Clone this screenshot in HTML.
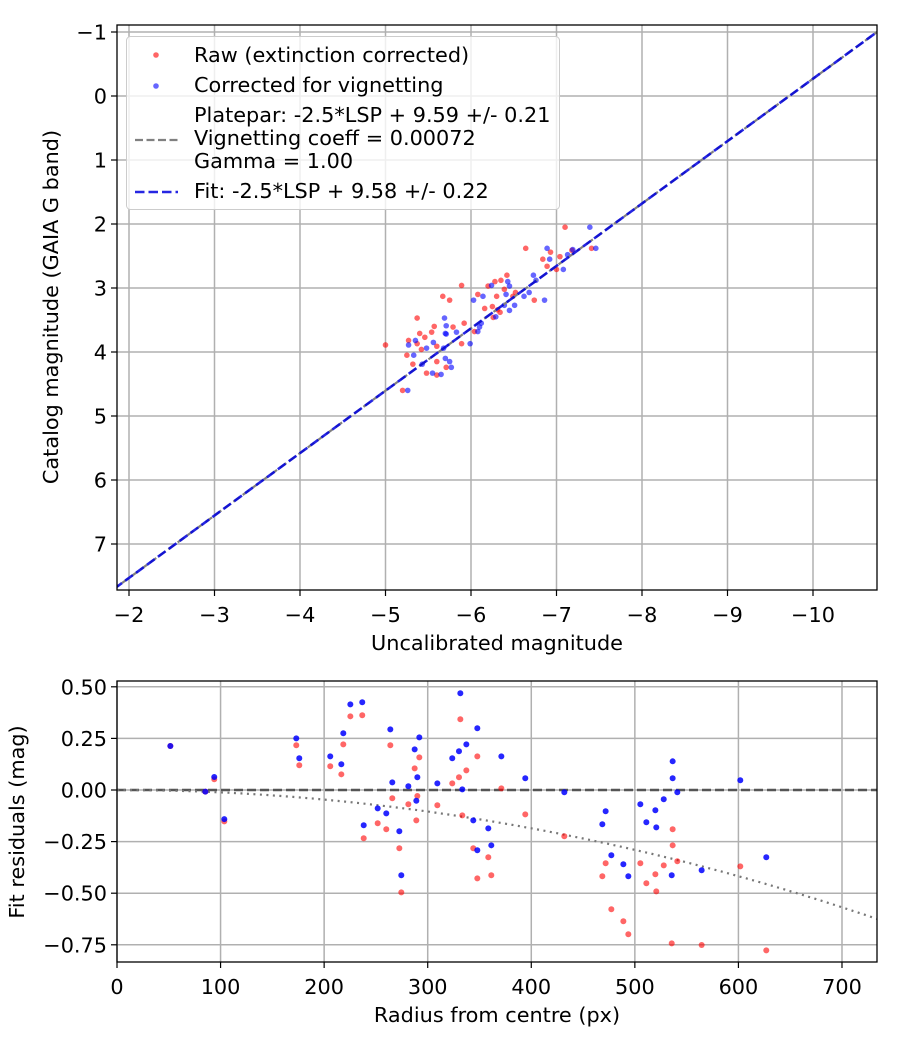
<!DOCTYPE html>
<html><head><meta charset="utf-8"><style>
body{margin:0;background:#fff;}
svg{display:block;font-family:"DejaVu Sans","Liberation Sans",sans-serif;}
</style></head><body>
<svg id="s" width="900" height="1050" xmlns="http://www.w3.org/2000/svg"></svg>
<script>
// ---- top chart data ----
const rawMag=[-7.10,-6.64,-6.93,-7.41,-6.84,-7.04,-6.89,-7.00,-7.18,-6.42,-6.35,-6.28,-6.20,-5.89,-5.67,-5.75,-6.08,-6.30,-6.39,-6.49,-6.52,-6.74,-6.16,-6.26,-6.34,-6.31,-5.37,-5.57,-5.54,-5.40,-5.27,-5.46,-5.37,-5.42,-5.00,-5.60,-5.25,-5.32,-5.48,-5.60,-5.71,-5.60,-5.20,-5.92,-5.79,-6.04,-5.89,-6.25];
const rawCat=[2.05,2.38,2.44,2.38,2.55,2.51,2.66,2.71,2.41,2.80,2.88,2.90,2.97,2.96,3.13,3.19,3.10,3.13,3.02,3.13,3.07,3.19,3.32,3.46,3.38,3.34,3.47,3.60,3.69,3.71,3.82,3.77,3.87,3.96,3.89,3.91,4.05,4.19,4.33,4.15,4.24,4.36,4.60,3.55,3.61,3.68,3.87,3.29];
const corMag=[-7.39,-6.89,-7.46,-6.92,-7.13,-7.08,-7.19,-6.73,-6.76,-6.24,-6.43,-6.45,-6.14,-6.03,-6.41,-6.62,-6.68,-6.86,-6.39,-6.51,-6.45,-6.29,-5.69,-5.71,-5.83,-5.70,-5.35,-5.27,-5.56,-5.48,-5.33,-5.43,-5.70,-5.75,-5.77,-5.55,-5.65,-5.26,-6.10,-6.08,-6.12,-5.99,-5.71,-5.68];
const corCat=[2.05,2.38,2.38,2.55,2.48,2.71,2.40,2.80,2.88,2.96,2.90,2.97,3.13,3.19,3.10,3.13,3.07,3.19,3.27,3.27,3.35,3.45,3.47,3.59,3.69,3.71,3.82,3.89,3.85,3.94,4.05,4.19,4.10,4.15,4.24,4.33,4.35,4.60,3.61,3.68,3.55,3.87,3.72,3.94];
const fitSlope=0.975;
const fitOffset=9.48;
const topXTicks=[-2,-3,-4,-5,-6,-7,-8,-9,-10];
const topYTicks=[-1,0,1,2,3,4,5,6,7];
// ---- bottom chart data ----
const radius=[51.5,85.3,93.9,103.6,173.1,176.0,205.9,216.6,218.5,225.3,236.8,238.2,251.7,260.0,263.9,265.8,272.6,274.5,281.3,287.4,290.0,289.0,291.9,309.3,323.7,330.2,331.5,337.3,333.4,347.9,344.0,347.9,358.5,361.4,371.1,394.2,431.9,471.8,468.6,477.3,488.9,493.7,505.3,511.1,519.8,520.7,527.9,536.5,536.5,541.0,535.6,564.5,601.8,626.9];
const resCor=[0.213,-0.008,0.063,-0.141,0.250,0.154,0.163,0.125,0.275,0.415,0.425,-0.171,-0.089,-0.113,0.294,0.037,-0.200,-0.413,0.018,0.197,0.062,-0.052,0.255,0.032,0.154,0.188,0.469,0.221,0.003,0.299,-0.147,-0.292,-0.186,-0.268,0.163,0.057,-0.011,-0.103,-0.166,-0.316,-0.360,-0.418,-0.069,-0.156,-0.098,-0.181,-0.045,0.139,0.057,-0.011,-0.413,-0.389,0.047,-0.326];
const resRaw=[0.213,-0.008,0.052,-0.152,0.217,0.120,0.115,0.076,0.221,0.357,0.362,-0.234,-0.161,-0.190,0.217,-0.040,-0.282,-0.496,-0.069,0.105,-0.029,-0.147,0.158,-0.074,0.032,0.062,0.343,0.095,-0.123,0.163,-0.282,-0.428,-0.326,-0.413,0.008,-0.118,-0.224,-0.355,-0.418,-0.578,-0.636,-0.699,-0.355,-0.452,-0.408,-0.491,-0.365,-0.190,-0.268,-0.345,-0.743,-0.751,-0.370,-0.777];
const vigK=1.16e-6;
const botXTicks=[0,100,200,300,400,500,600,700];
const botYTicks=[0.50,0.25,0.00,-0.25,-0.50,-0.75];

const S=document.getElementById('s');
const NS='http://www.w3.org/2000/svg';
function mk(tag,attrs,parent,txt){const e=document.createElementNS(NS,tag);for(const k in attrs)e.setAttribute(k,attrs[k]);if(txt!==undefined)e.textContent=txt;(parent||S).appendChild(e);return e;}
function fmt(v,d){const s=Math.abs(v).toFixed(d);return (v<0?'\u2212':'')+s;}
const FS=20.8;

// ===== TOP =====
const T={l:117,r:877,t:25,b:590};
const tx=v=>129+(-2-v)*85.5;
const ty=v=>32+(v+1)*64;
const gTop=mk('g',{});


mk('defs',{},S).innerHTML='<clipPath id="ct"><rect x="117" y="25" width="760" height="565"/></clipPath><clipPath id="cb"><rect x="117" y="681" width="760" height="281"/></clipPath>';
topXTicks.forEach(v=>{const x=tx(v);
 const l=mk('line',{x1:x,x2:x,y1:T.t,y2:T.b,stroke:'#b0b0b0','stroke-width':1.5},gTop);
 
 mk('line',{x1:x,x2:x,y1:T.b,y2:T.b+6,stroke:'#000','stroke-width':1.2},gTop);
 const t=mk('text',{x:x,y:622,'font-size':FS,'text-anchor':'middle'},gTop,fmt(v,0));
 });
topYTicks.forEach(v=>{const y=ty(v);
 const l=mk('line',{x1:T.l,x2:T.r,y1:y,y2:y,stroke:'#b0b0b0','stroke-width':1.5},gTop);
 
 mk('line',{x1:T.l-6,x2:T.l,y1:y,y2:y,stroke:'#000','stroke-width':1.2},gTop);
 const t=mk('text',{x:T.l-10,y:y+7.5,'font-size':FS,'text-anchor':'end'},gTop,fmt(v,0));
 });
const gPts=mk('g',{'clip-path':'url(#ct)'},gTop);
rawMag.forEach((m,i)=>{const c=mk('circle',{cx:tx(m),cy:ty(rawCat[i]),r:2.8,fill:'#ff0000','fill-opacity':0.6},gPts);
 });
corMag.forEach((m,i)=>{const c=mk('circle',{cx:tx(m),cy:ty(corCat[i]),r:2.8,fill:'#0000ff','fill-opacity':0.6},gPts);
 });
const m0=-1.7,m1=-10.9;
const fy=m=>fitSlope*m+fitOffset;
let pl=mk('line',{x1:tx(m0),y1:ty(fy(m0)),x2:tx(m1),y2:ty(fy(m1)),stroke:'#808080','stroke-width':2.2,'stroke-dasharray':'8,3.5'},gPts);

pl=mk('line',{x1:tx(m0),y1:ty(fy(m0)),x2:tx(m1),y2:ty(fy(m1)),stroke:'#0000dd','stroke-opacity':0.85,'stroke-width':2.6,'stroke-dasharray':'9.5,4'},gPts);

mk('rect',{x:T.l,y:T.t,width:T.r-T.l,height:T.b-T.t,fill:'none',stroke:'#000','stroke-width':1.3},gTop);
let t=mk('text',{x:497,y:650,'font-size':FS,'text-anchor':'middle'},gTop,'Uncalibrated magnitude');

t=mk('text',{x:58,y:307,'font-size':FS,'text-anchor':'middle',transform:'rotate(-90 58 307)'},gTop,'Catalog magnitude (GAIA G band)');

// legend
const lg=mk('g',{},gTop);

mk('rect',{x:126.5,y:36.5,width:433,height:173,rx:4,fill:'#fff','fill-opacity':0.8,stroke:'#cccccc','stroke-width':1},lg);
mk('circle',{cx:156,cy:55,r:2.8,fill:'#ff0000','fill-opacity':0.6},lg);
mk('text',{x:194,y:62,'font-size':FS},lg,'Raw (extinction corrected)');
mk('circle',{cx:156,cy:86,r:2.8,fill:'#0000ff','fill-opacity':0.6},lg);
mk('text',{x:194,y:92,'font-size':FS},lg,'Corrected for vignetting');
mk('line',{x1:135,x2:178,y1:140,y2:140,stroke:'#808080','stroke-width':2.2,'stroke-dasharray':'8,3.5'},lg);
mk('text',{x:194,y:122,'font-size':FS},lg,'Platepar: -2.5*LSP + 9.59 +/- 0.21');
mk('text',{x:194,y:145,'font-size':FS},lg,'Vignetting coeff = 0.00072');
mk('text',{x:194,y:168,'font-size':FS},lg,'Gamma = 1.00');
mk('line',{x1:135,x2:178,y1:192,y2:192,stroke:'#0000dd','stroke-opacity':0.85,'stroke-width':2.6,'stroke-dasharray':'9.5,4'},lg);
mk('text',{x:194,y:198,'font-size':FS},lg,'Fit: -2.5*LSP + 9.58 +/- 0.22');

// ===== BOTTOM =====
const B={l:117,r:877,t:681,b:962};
const bx=v=>117+v*1.0357;
const by=v=>790-v*206.4;
const gBot=mk('g',{});


botXTicks.forEach(v=>{const x=bx(v);
 const l=mk('line',{x1:x,x2:x,y1:B.t,y2:B.b,stroke:'#b0b0b0','stroke-width':1.5},gBot);
 
 mk('line',{x1:x,x2:x,y1:B.b,y2:B.b+6,stroke:'#000','stroke-width':1.2},gBot);
 const t=mk('text',{x:x,y:994,'font-size':FS,'text-anchor':'middle'},gBot,String(v));
 });
botYTicks.forEach(v=>{const y=by(v);
 const l=mk('line',{x1:B.l,x2:B.r,y1:y,y2:y,stroke:'#b0b0b0','stroke-width':1.5},gBot);
 
 mk('line',{x1:B.l-6,x2:B.l,y1:y,y2:y,stroke:'#000','stroke-width':1.2},gBot);
 const t=mk('text',{x:B.l-10,y:y+7.5,'font-size':FS,'text-anchor':'end'},gBot,fmt(v,2));
 });
const gB=mk('g',{'clip-path':'url(#cb)'},gBot);
let zl=mk('line',{x1:B.l,x2:B.r,y1:by(0),y2:by(0),stroke:'#555','stroke-width':2.4,'stroke-dasharray':'9,4'},gB);

let d='';for(let r=0;r<=735;r+=5){d+=(r?'L':'M')+bx(r).toFixed(1)+','+by(-vigK*r*r).toFixed(1);}
let vc=mk('path',{d:d,fill:'none',stroke:'#777','stroke-width':2.2,'stroke-dasharray':'2,4.5'},gB);

radius.forEach((r,i)=>{const c=mk('circle',{cx:bx(r),cy:by(resRaw[i]),r:3,fill:'#ff0000','fill-opacity':0.6},gB);
 });
radius.forEach((r,i)=>{const c=mk('circle',{cx:bx(r),cy:by(resCor[i]),r:3,fill:'#0000ff','fill-opacity':0.85},gB);
 });
mk('rect',{x:B.l,y:B.t,width:B.r-B.l,height:B.b-B.t,fill:'none',stroke:'#000','stroke-width':1.3},gBot);
t=mk('text',{x:497,y:1022,'font-size':FS,'text-anchor':'middle'},gBot,'Radius from centre (px)');

t=mk('text',{x:24,y:822,'font-size':FS,'text-anchor':'middle',transform:'rotate(-90 24 822)'},gBot,'Fit residuals (mag)');

</script>
</body></html>
